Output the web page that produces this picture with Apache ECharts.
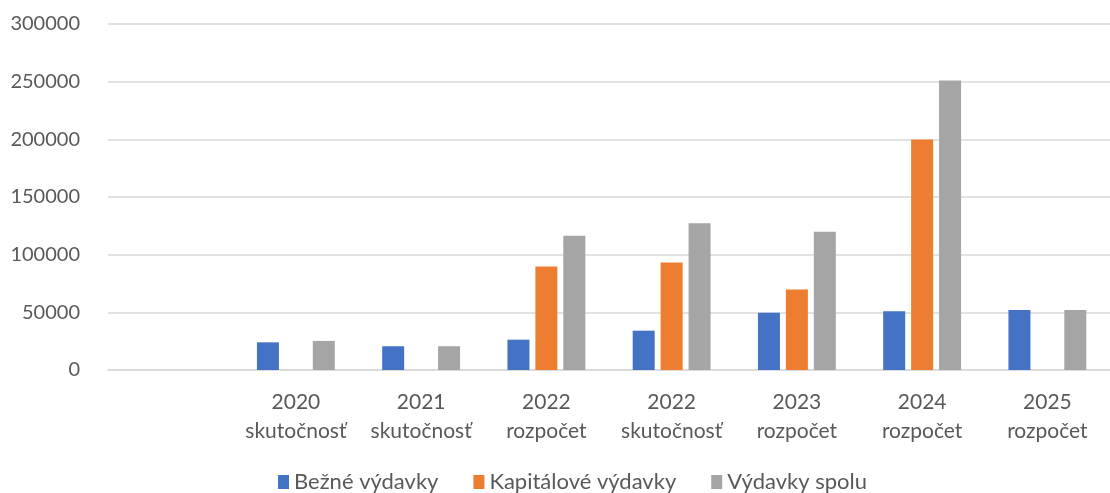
<!DOCTYPE html>
<html>
<head>
<meta charset="utf-8">
<script src="https://cdn.jsdelivr.net/npm/echarts@6/dist/echarts.min.js"></script>
<style>
  html, body { margin: 0; padding: 0; background: #fff; }
  #chart { width: 1110px; height: 493px; }
</style>
</head>
<body>
<div id="chart"></div>
<script>
// kategórie (prvá je prázdna, ako v pôvodnom grafe)
const categories = ['', '2020\nskutočnosť', '2021\nskutočnosť', '2022\nrozpočet', '2022\nskutočnosť', '2023\nrozpočet', '2024\nrozpočet', '2025\nrozpočet']
const bezneVydavky = [null, 24000, 20600, 26300, 34100, 49700, 50900, 52000]
const kapitaloveVydavky = [null, null, null, 89700, 93100, 69700, 199900, null]
const vydavkySpolu = [null, 25200, 20600, 116300, 127300, 119800, 251100, 52000]
const yTicks = [0, 50000, 100000, 150000, 200000, 250000, 300000]

const font = 'Lato, "Open Sans", sans-serif'
const textColor = '#595959'

function bar(name, color, data) {
  return {
    name: name,
    type: 'bar',
    barWidth: 22,
    barGap: '27%',
    itemStyle: { color: color },
    data: data,
  }
}

const chart = echarts.init(document.getElementById('chart'))
chart.setOption({
  animation: false,
  textStyle: { fontFamily: font },
  grid: { left: 108, right: 0, top: 24, bottom: 123, containLabel: false },
  legend: {
    bottom: 0,
    left: 273,
    padding: [0, 5, 0, 5],
    itemWidth: 11,
    itemHeight: 14,
    itemGap: 35,
    icon: 'rect',
    textStyle: { fontFamily: font, fontSize: 22, color: textColor },
    data: ['Bežné výdavky', 'Kapitálové výdavky', 'Výdavky spolu'],
  },
  xAxis: {
    type: 'category',
    data: categories,
    axisLine: { lineStyle: { color: '#d9d9d9', width: 1.5 } },
    axisTick: { show: false },
    axisLabel: {
      interval: 0,
      margin: 18,
      fontSize: 21,
      lineHeight: 29,
      color: textColor,
      fontFamily: font,
    },
  },
  yAxis: {
    type: 'value',
    min: yTicks[0],
    max: yTicks[yTicks.length - 1],
    interval: 50000,
    axisLine: { show: false },
    axisTick: { show: false },
    splitLine: { lineStyle: { color: '#d9d9d9', width: 1.5 } },
    axisLabel: {
      margin: 28,
      fontSize: 20,
      color: textColor,
      fontFamily: font,
      formatter: (v) => String(v),
    },
  },
  series: [
    bar('Bežné výdavky', '#4472C4', bezneVydavky),
    bar('Kapitálové výdavky', '#ED7D31', kapitaloveVydavky),
    bar('Výdavky spolu', '#A5A5A5', vydavkySpolu),
  ],
})
</script>
</body>
</html>
